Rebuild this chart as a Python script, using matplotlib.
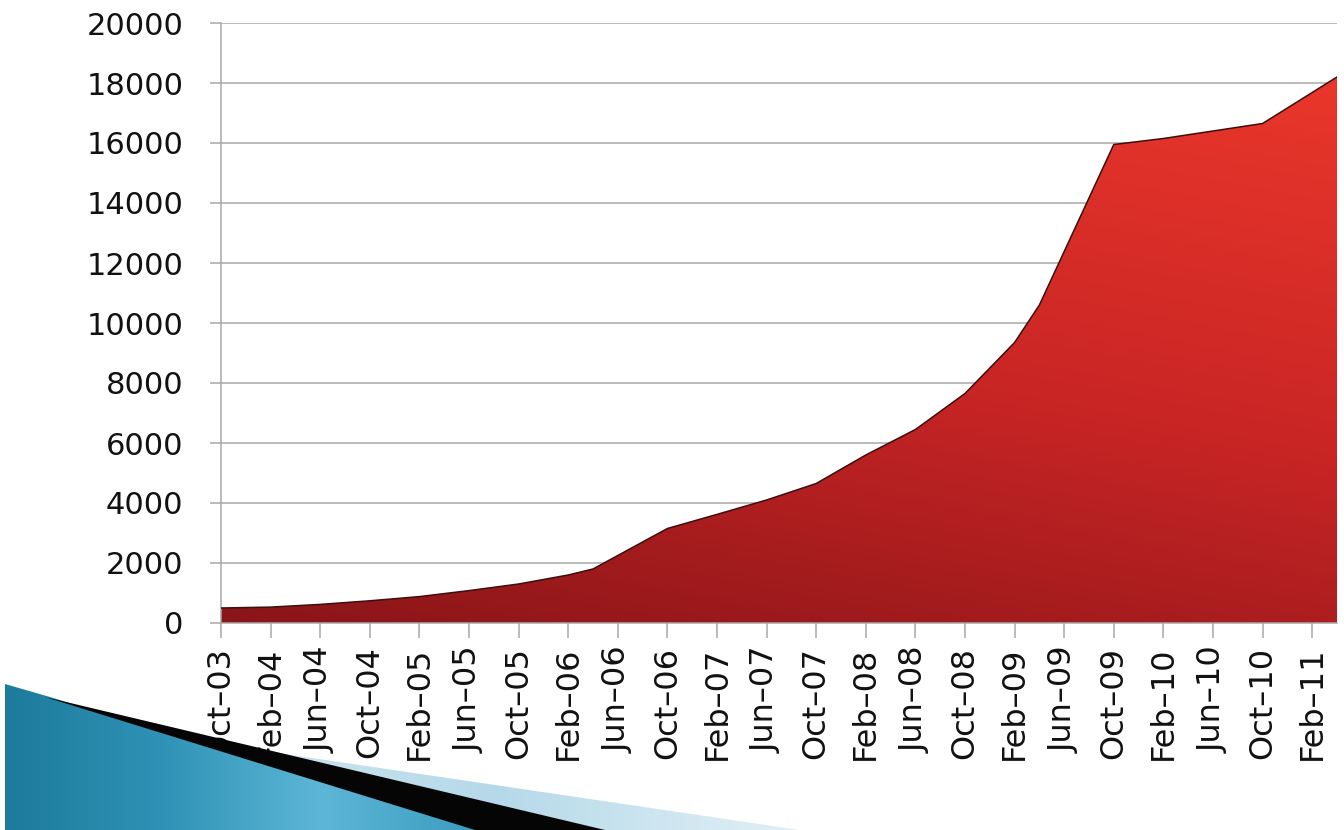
import numpy as np
import pandas as pd
import matplotlib
matplotlib.use("Agg")
import matplotlib.pyplot as plt
from matplotlib.patches import Polygon
from matplotlib.colors import LinearSegmentedColormap

# data
dates = ["2003-10", "2004-02", "2004-06", "2004-10", "2005-02", "2005-06",
         "2005-10", "2006-02", "2006-04", "2006-10", "2007-02", "2007-06",
         "2007-10", "2008-02", "2008-06", "2008-10", "2009-02", "2009-04",
         "2009-10", "2010-02", "2010-06", "2010-10", "2011-04"]
values = [500, 530, 620, 740, 880, 1080,
          1300, 1600, 1800, 3150, 3620, 4100,
          4650, 5600, 6450, 7650, 9350, 10600,
          15950, 16150, 16400, 16650, 18200]
tick_labels = ["Oct–03", "Feb–04", "Jun–04", "Oct–04", "Feb–05", "Jun–05",
               "Oct–05", "Feb–06", "Jun–06", "Oct–06", "Feb–07", "Jun–07",
               "Oct–07", "Feb–08", "Jun–08", "Oct–08", "Feb–09", "Jun–09",
               "Oct–09", "Feb–10", "Jun–10", "Oct–10", "Feb–11"]
y_ticks = list(range(0, 20001, 2000))

# months since Oct-03
d = pd.to_datetime(dates)
x = np.array((d.year - 2003) * 12 + d.month - 10, dtype=float)
y = np.array(values, dtype=float)
xmax = x[-1]

fig = plt.figure(figsize=(13.44, 8.3), dpi=100)
ax = fig.add_axes([221 / 1344, 1 - 623 / 830, (1337 - 221) / 1344, 600 / 830])

# gradient filled area: bright at the top right, dark at the bottom left
red = LinearSegmentedColormap.from_list("red", ["#ea372b", "#c92525", "#8a1518"])
gx, gy = np.meshgrid(np.linspace(0, 1, 300), np.linspace(0, 1, 300))
grad = np.clip(0.72 * gy + 0.28 * (1 - gx), 0, 1)
img = ax.imshow(grad, cmap=red, extent=[0, xmax, 0, 18300], aspect="auto",
                origin="upper", zorder=2, vmin=0, vmax=1)
clip = Polygon(np.column_stack([np.r_[x, xmax, 0], np.r_[y, 0, 0]]),
               transform=ax.transData, facecolor="none", edgecolor="none")
ax.add_patch(clip)
img.set_clip_path(clip)
ax.plot(x, y, color="#3a1010", lw=1.1, zorder=3)

ax.set_xlim(0, xmax)
ax.set_ylim(0, 20000)
ax.set_yticks(y_ticks)
ax.set_yticklabels([str(v) for v in y_ticks])
ax.set_xticks(np.arange(0, 4 * len(tick_labels), 4))
ax.set_xticklabels(tick_labels, rotation=90)

ax.grid(axis="y", color="#a8a8a8", lw=1.1, zorder=1)
ax.set_axisbelow(True)
for s in ["top", "right"]:
    ax.spines[s].set_visible(False)
ax.spines["left"].set_color("#a8a8a8")
ax.spines["bottom"].set_color("#a8a8a8")
ax.spines["left"].set_linewidth(1.1)
ax.spines["bottom"].set_linewidth(1.1)
ax.tick_params(axis="y", length=8, width=1.1, color="#a8a8a8", pad=19,
               labelsize=22, labelcolor="#111111")
ax.tick_params(axis="x", length=11, width=1.1, color="#a8a8a8", pad=6,
               labelsize=23, labelcolor="#111111")

# decorative slide shape in the lower left corner
ov = fig.add_axes([0, 0, 1, 1], zorder=10)
ov.set_xlim(0, 1344)
ov.set_ylim(830, 0)
ov.axis("off")
ov.patch.set_alpha(0)


def grad_poly(pts, colors):
    p = Polygon(pts, closed=True, facecolor="none", edgecolor="none")
    ov.add_patch(p)
    cm = LinearSegmentedColormap.from_list("g", colors)
    arr = np.tile(np.linspace(0, 1, 256), (256, 1))
    xs = [q[0] for q in pts]
    ys = [q[1] for q in pts]
    im = ov.imshow(arr, cmap=cm, extent=[min(xs), max(xs), max(ys), min(ys)],
                   aspect="auto", origin="upper")
    im.set_clip_path(p)


grad_poly([(190, 740), (800, 830), (590, 830)], ["#d4e9f3", "#b5d9e9", "#e2f0f6"])
grad_poly([(5, 684), (50, 697), (480, 830), (5, 830)],
          ["#1d7b9c", "#2f92b6", "#5db6d6", "#3a9cc0"])
ov.add_patch(Polygon([(45, 697), (605, 830), (475, 830)], closed=True,
                     facecolor="#050505", edgecolor="none"))

fig.savefig("out.png", dpi=100)
